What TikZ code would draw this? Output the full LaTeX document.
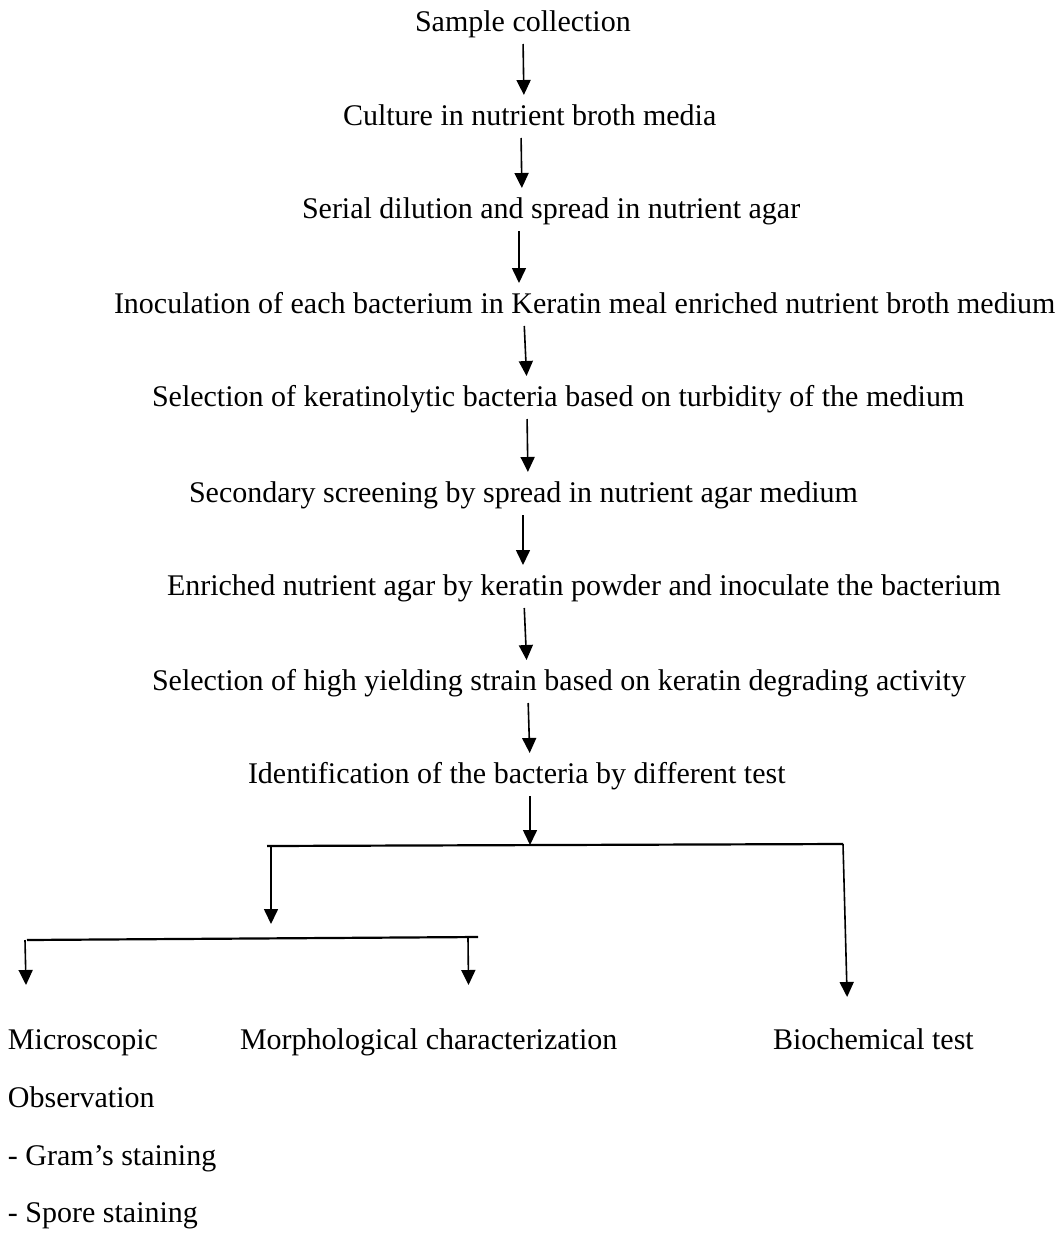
\documentclass[tikz,border=0pt]{standalone}
\usepackage{fontspec}
\setmainfont{Liberation Serif}
\usetikzlibrary{arrows.meta,calc}
\begin{document}
\begin{tikzpicture}[x=1pt,y=-1pt,
  lbl/.style={anchor=base west,inner sep=0pt,outer sep=0pt,
    font=\fontsize{30}{36}\selectfont,text height=20pt,text depth=7pt},
  arr/.style={line width=1.6pt,-{Triangle[width=14pt,length=15pt]}},
  flow/.style={arr,shorten <=6pt,shorten >=10pt},
  bar/.style={line width=2.2pt}]
\useasboundingbox (0,0) rectangle (1062,1234);

% main flow
\node[lbl] (s1) at (415,31)  {Sample collection};
\node[lbl] (s2) at (343,125) {Culture in nutrient broth media};
\node[lbl] (s3) at (302,218) {Serial dilution and spread in nutrient agar};
\node[lbl] (s4) at (114,313) {Inoculation of each bacterium in Keratin meal enriched nutrient broth medium};
\node[lbl] (s5) at (152,406) {Selection of keratinolytic bacteria based on turbidity of the medium};
\node[lbl] (s6) at (189,502) {Secondary screening by spread in nutrient agar medium};
\node[lbl] (s7) at (167,595) {Enriched nutrient agar by keratin powder and inoculate the bacterium};
\node[lbl] (s8) at (152,690) {Selection of high yielding strain based on keratin degrading activity};
\node[lbl] (s9) at (248,783) {Identification of the bacteria by different test};

% results
\node[lbl] (m1) at (8,1049)   {Microscopic};
\node[lbl] (m2) at (8,1107)   {Observation};
\node[lbl] (m3) at (8,1165)   {- Gram’s staining};
\node[lbl] (m4) at (8,1222)   {- Spore staining};
\node[lbl] (mo) at (240,1049) {Morphological characterization};
\node[lbl] (bt) at (773,1049) {Biochemical test};

% flow arrows
\draw[flow] (523,0 |- s1.south) -- (524,0 |- s2.north);
\draw[flow] (521,0 |- s2.south) -- (522,0 |- s3.north);
\draw[flow] (519,0 |- s3.south) -- (519,0 |- s4.north);
\draw[flow] (524,0 |- s4.south) -- (527,0 |- s5.north);
\draw[flow] (527,0 |- s5.south) -- (528,0 |- s6.north);
\draw[flow] (523,0 |- s6.south) -- (523,0 |- s7.north);
\draw[flow] (524,0 |- s7.south) -- (527,0 |- s8.north);
\draw[flow] (528,0 |- s8.south) -- (530,0 |- s9.north);

% branching
\coordinate (b1l) at (267,846);
\coordinate (b1r) at (843,844);
\coordinate (b1j) at (530,845);
\coordinate (b1d) at (271,846);
\coordinate (b2m) at (271,924);
\coordinate (b2l) at (27,940);
\coordinate (b2r) at (478,937);
\coordinate (b2a) at (25,940);
\coordinate (b2b) at (468,938);

\draw[arr,shorten <=6pt] (530,0 |- s9.south) -- (b1j);
\draw[bar] (b1l) -- (b1r);
\draw[arr] (b1d) -- (b2m);
\draw[bar] (b2l) -- (b2r);
\draw[arr,shorten >=32pt] (b1r) -- (848,0 |- bt.north);
\draw[arr,shorten >=44pt] (b2a) -- (27,0 |- m1.north);
\draw[arr,shorten >=44pt] (b2b) -- (469,0 |- mo.north);
\end{tikzpicture}
\end{document}
